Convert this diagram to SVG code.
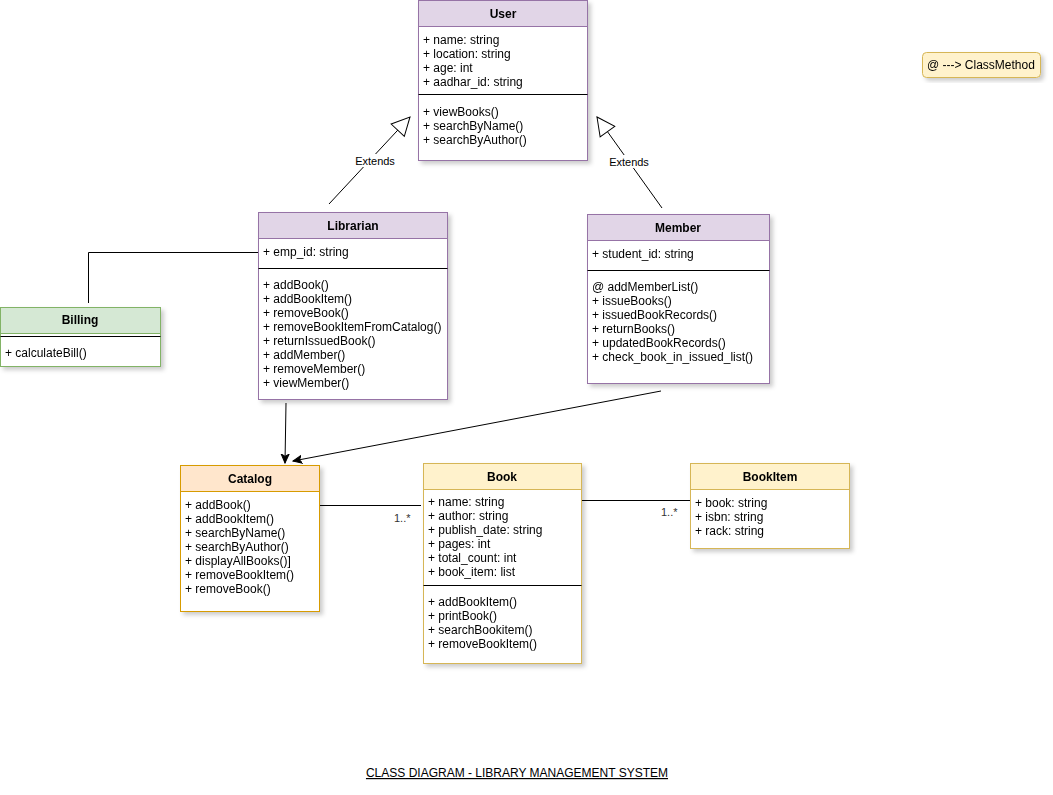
<svg xmlns="http://www.w3.org/2000/svg" width="1053" height="795" viewBox="0 0 1053 795">
<style>
text{font-family:"Liberation Sans",Arial,sans-serif;font-size:12px;fill:#000}
.h{font-weight:bold;font-size:12px;text-anchor:middle}
.m{text-anchor:middle}
.sep{stroke:#000;stroke-width:1}
.purH{fill:#e1d5e7;stroke:#9673a6}
.pur{fill:#fff;stroke:#9673a6}
.grnH{fill:#d5e8d4;stroke:#82b366}
.grn{fill:#fff;stroke:#82b366}
.orH{fill:#ffe6cc;stroke:#d79b00}
.or{fill:#fff;stroke:#d79b00}
.yH{fill:#fff2cc;stroke:#d6b656}
.y{fill:#fff;stroke:#d6b656}
.ln{fill:none;stroke:#000;stroke-width:1}
.lbl{font-size:11px;text-anchor:middle}
.mul{font-size:11px;fill:#333}
</style>
<defs>
<filter id="sh" x="-10%" y="-10%" width="130%" height="130%">
<feDropShadow dx="3" dy="3" stdDeviation="2" flood-color="#000" flood-opacity="0.2"/>
</filter>
<marker id="tri" viewBox="0 0 20 20" refX="19" refY="10" markerWidth="20" markerHeight="20" markerUnits="userSpaceOnUse" orient="auto">
<path d="M1,1 L19,10 L1,19 Z" fill="#fff" stroke="#000" stroke-width="1"/>
</marker>
<marker id="arr" viewBox="0 0 10 10" refX="9" refY="5" markerWidth="10" markerHeight="10" markerUnits="userSpaceOnUse" orient="auto">
<path d="M0,1 L9,5 L0,9 L2.5,5 Z" fill="#000" stroke="#000" stroke-width="1"/>
</marker>
</defs>
<rect width="1053" height="795" fill="#fff"/>

<g id="connectors">
<line class="ln" x1="329" y1="204" x2="410" y2="117" marker-end="url(#tri)"/>
<rect x="354" y="154" width="42" height="13" fill="#fff"/>
<text class="lbl" x="375" y="165">Extends</text>
<line class="ln" x1="662" y1="208" x2="597" y2="117" marker-end="url(#tri)"/>
<rect x="608" y="155" width="42" height="13" fill="#fff"/>
<text class="lbl" x="629" y="166">Extends</text>
<polyline class="ln" points="258,252.5 88.5,252.5 88.5,303"/>
<line class="ln" x1="286" y1="403" x2="285" y2="463" marker-end="url(#arr)"/>
<line class="ln" x1="661" y1="391" x2="293" y2="461" marker-end="url(#arr)"/>
<line class="ln" x1="319" y1="505.5" x2="421" y2="505.5"/>
<text class="mul" x="394" y="522">1..*</text>
<line class="ln" x1="582" y1="500.5" x2="690" y2="500.5"/>
<text class="mul" x="661" y="516">1..*</text>
</g>

<g id="user" filter="url(#sh)">
<rect class="pur" x="418.5" y="0.5" width="169" height="160"/>
<rect class="purH" x="418.5" y="0.5" width="169" height="26"/>
<text class="h" x="503" y="18">User</text>
<text x="423" y="44">+ name: string</text>
<text x="423" y="58">+ location: string</text>
<text x="423" y="72">+ age: int</text>
<text x="423" y="86">+ aadhar_id: string</text>
<line class="sep" x1="418.5" y1="94.5" x2="587.5" y2="94.5"/>
<text x="423" y="116">+ viewBooks()</text>
<text x="423" y="130">+ searchByName()</text>
<text x="423" y="144">+ searchByAuthor()</text>
</g>

<g id="librarian" filter="url(#sh)">
<rect class="pur" x="258.5" y="212.5" width="189" height="187"/>
<rect class="purH" x="258.5" y="212.5" width="189" height="26"/>
<text class="h" x="353" y="230">Librarian</text>
<text x="263" y="256">+ emp_id: string</text>
<line class="sep" x1="258.5" y1="268.5" x2="447.5" y2="268.5"/>
<text x="263" y="289">+ addBook()</text>
<text x="263" y="303">+ addBookItem()</text>
<text x="263" y="317">+ removeBook()</text>
<text x="263" y="331">+ removeBookItemFromCatalog()</text>
<text x="263" y="345">+ returnIssuedBook()</text>
<text x="263" y="359">+ addMember()</text>
<text x="263" y="373">+ removeMember()</text>
<text x="263" y="387">+ viewMember()</text>
</g>

<g id="member" filter="url(#sh)">
<rect class="pur" x="587.5" y="214.5" width="182" height="169"/>
<rect class="purH" x="587.5" y="214.5" width="182" height="26"/>
<text class="h" x="678" y="232">Member</text>
<text x="592" y="258">+ student_id: string</text>
<line class="sep" x1="587.5" y1="270.5" x2="769.5" y2="270.5"/>
<text x="592" y="291">@ addMemberList()</text>
<text x="592" y="305">+ issueBooks()</text>
<text x="592" y="319">+ issuedBookRecords()</text>
<text x="592" y="333">+ returnBooks()</text>
<text x="592" y="347">+ updatedBookRecords()</text>
<text x="592" y="361">+ check_book_in_issued_list()</text>
</g>

<g id="billing" filter="url(#sh)">
<rect class="grn" x="0.5" y="307.5" width="160" height="59"/>
<rect class="grnH" x="0.5" y="307.5" width="160" height="26"/>
<text class="h" x="80" y="324">Billing</text>
<line class="sep" x1="0.5" y1="336.5" x2="160.5" y2="336.5"/>
<text x="5" y="357">+ calculateBill()</text>
</g>

<g id="catalog" filter="url(#sh)">
<rect class="or" x="180.5" y="465.5" width="139" height="146"/>
<rect class="orH" x="180.5" y="465.5" width="139" height="26"/>
<text class="h" x="250" y="483">Catalog</text>
<text x="185" y="509">+ addBook()</text>
<text x="185" y="523">+ addBookItem()</text>
<text x="185" y="537">+ searchByName()</text>
<text x="185" y="551">+ searchByAuthor()</text>
<text x="185" y="565">+ displayAllBooks()]</text>
<text x="185" y="579">+ removeBookItem()</text>
<text x="185" y="593">+ removeBook()</text>
</g>

<g id="book" filter="url(#sh)">
<rect class="y" x="423.5" y="463.5" width="158" height="200"/>
<rect class="yH" x="423.5" y="463.5" width="158" height="26"/>
<text class="h" x="502" y="481">Book</text>
<text x="428" y="506">+ name: string</text>
<text x="428" y="520">+ author: string</text>
<text x="428" y="534">+ publish_date: string</text>
<text x="428" y="548">+ pages: int</text>
<text x="428" y="562">+ total_count: int</text>
<text x="428" y="576">+ book_item: list</text>
<line class="sep" x1="423.5" y1="585.5" x2="581.5" y2="585.5"/>
<text x="428" y="606">+ addBookItem()</text>
<text x="428" y="620">+ printBook()</text>
<text x="428" y="634">+ searchBookitem()</text>
<text x="428" y="648">+ removeBookItem()</text>
</g>

<g id="bookitem" filter="url(#sh)">
<rect class="y" x="690.5" y="463.5" width="159" height="85"/>
<rect class="yH" x="690.5" y="463.5" width="159" height="26"/>
<text class="h" x="770" y="481">BookItem</text>
<text x="695" y="507">+ book: string</text>
<text x="695" y="521">+ isbn: string</text>
<text x="695" y="535">+ rack: string</text>
</g>

<g id="note" filter="url(#sh)">
<rect x="922.5" y="52.5" width="118" height="25" rx="4" fill="#fff2cc" stroke="#d6b656"/>
<text x="927" y="69">@ ---&gt; ClassMethod</text>
</g>

<g id="title">
<text x="517" y="777" class="m" style="text-decoration:underline">CLASS DIAGRAM - LIBRARY MANAGEMENT SYSTEM</text>
</g>
</svg>
